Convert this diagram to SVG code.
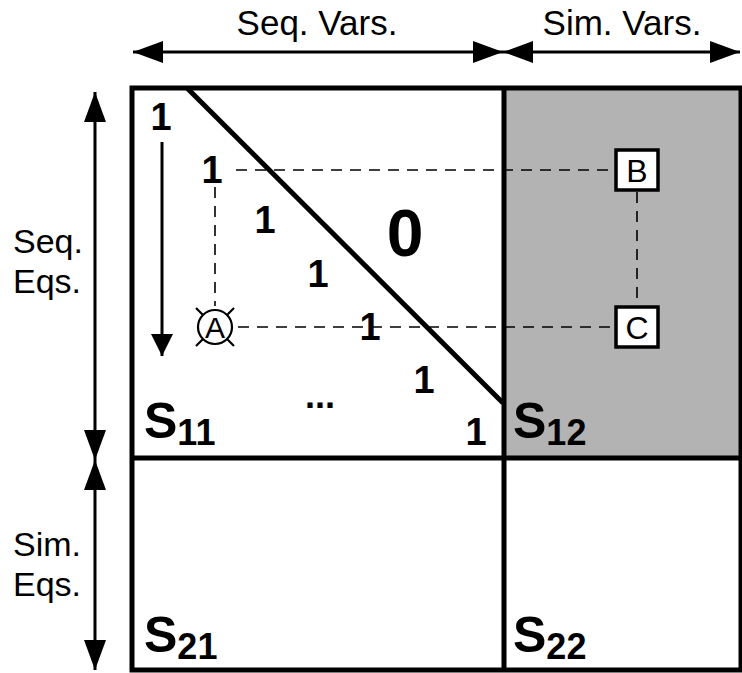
<svg xmlns="http://www.w3.org/2000/svg" width="742" height="673" viewBox="0 0 742 673">
<defs>
<marker id="ah" viewBox="0 0 30 22" refX="30" refY="11" markerWidth="30" markerHeight="22" markerUnits="userSpaceOnUse" orient="auto-start-reverse">
<path d="M0,0 L30,11 L0,22 Z" fill="#000"/>
</marker>
<marker id="ahs" viewBox="0 0 22 22" refX="22" refY="11" markerWidth="22" markerHeight="22" markerUnits="userSpaceOnUse" orient="auto">
<path d="M0,0 L22,11 L0,22 Z" fill="#000"/>
</marker>
<style>
.lbl{font-family:"Liberation Sans",Arial,sans-serif;font-size:35px;fill:#000}
.side{font-size:34px}
.num{font-family:"Liberation Sans",Arial,sans-serif;font-weight:bold;font-size:38px;fill:#000;text-anchor:middle}
.s{font-family:"Liberation Sans",Arial,sans-serif;font-weight:bold;font-size:50px;fill:#000}
.sub{font-size:36px}
.arr{stroke:#000;stroke-width:3;fill:none}
.dash{stroke:#000;stroke-width:1.6;stroke-dasharray:11 8;fill:none}
.box{fill:#fff;stroke:#000;stroke-width:3.5}
.let{font-family:"Liberation Sans",Arial,sans-serif;font-size:32px;fill:#000;text-anchor:middle}
</style>
</defs>
<rect width="742" height="673" fill="#fff"/>
<g id="S12-fill"><rect x="504" y="88" width="237" height="370" fill="#b3b3b3"/></g>
<g id="axes">
<text class="lbl" x="317" y="35" text-anchor="middle">Seq. Vars.</text>
<text class="lbl" x="622" y="35" text-anchor="middle">Sim. Vars.</text>
<text class="lbl side" x="13" y="253">Seq.</text>
<text class="lbl side" x="13" y="293">Eqs.</text>
<text class="lbl side" x="13" y="556">Sim.</text>
<text class="lbl side" x="13" y="596">Eqs.</text>
</g>
<g id="connectors">
<line class="arr" x1="133" y1="52" x2="503" y2="52" marker-start="url(#ah)" marker-end="url(#ah)"/>
<line class="arr" x1="503" y1="52" x2="740" y2="52" marker-start="url(#ah)" marker-end="url(#ah)"/>
<line class="arr" x1="95" y1="92" x2="95" y2="460" marker-start="url(#ah)" marker-end="url(#ah)"/>
<line class="arr" x1="95" y1="460" x2="95" y2="670" marker-start="url(#ah)" marker-end="url(#ah)"/>
<line class="arr" x1="162" y1="142" x2="162" y2="356" marker-end="url(#ahs)"/>
<line class="dash" x1="236" y1="170" x2="615" y2="170"/>
<line class="dash" x1="215" y1="187" x2="215" y2="306"/>
<line class="dash" x1="238" y1="327" x2="615" y2="327"/>
<line class="dash" x1="637" y1="192" x2="637" y2="306"/>
</g>
<g id="grid">
<rect x="132" y="88" width="609" height="582" fill="none" stroke="#000" stroke-width="5"/>
<line x1="504" y1="88" x2="504" y2="670" stroke="#000" stroke-width="5"/>
<line x1="132" y1="458" x2="741" y2="458" stroke="#000" stroke-width="5"/>
<line x1="187" y1="88" x2="503" y2="403" stroke="#000" stroke-width="5"/>
</g>
<g id="S11">
<text class="num" x="161" y="130">1</text>
<text class="num" x="212" y="183">1</text>
<text class="num" x="265" y="233">1</text>
<text class="num" x="318" y="287">1</text>
<text class="num" x="370" y="340">1</text>
<text class="num" x="424" y="393">1</text>
<text class="num" x="476" y="445">1</text>
<text class="num" x="405" y="256" style="font-size:66px">0</text>
<text class="num" x="320" y="408" style="font-size:36px">...</text>
<text class="s" x="144" y="438">S<tspan class="sub" dy="7">11</tspan></text>
</g>
<g id="A">
<circle cx="215" cy="327" r="17" fill="#fff" stroke="#000" stroke-width="2.2"/>
<path d="M202.5,314.5 L196,308 M227.5,314.5 L234,308 M202.5,339.5 L196,346 M227.5,339.5 L234,346" stroke="#000" stroke-width="2.2"/>
<text class="let" x="215" y="338" style="font-size:30px">A</text>
</g>
<g id="B">
<rect class="box" x="616" y="150" width="42" height="40"/>
<text class="let" x="637" y="182">B</text>
</g>
<g id="C">
<rect class="box" x="616" y="307" width="42" height="40"/>
<text class="let" x="637" y="339">C</text>
</g>
<g id="S12"><text class="s" x="513" y="438">S<tspan class="sub" dy="7">12</tspan></text></g>
<g id="S21"><text class="s" x="144" y="652">S<tspan class="sub" dy="7">21</tspan></text></g>
<g id="S22"><text class="s" x="513" y="652">S<tspan class="sub" dy="7">22</tspan></text></g>
</svg>
